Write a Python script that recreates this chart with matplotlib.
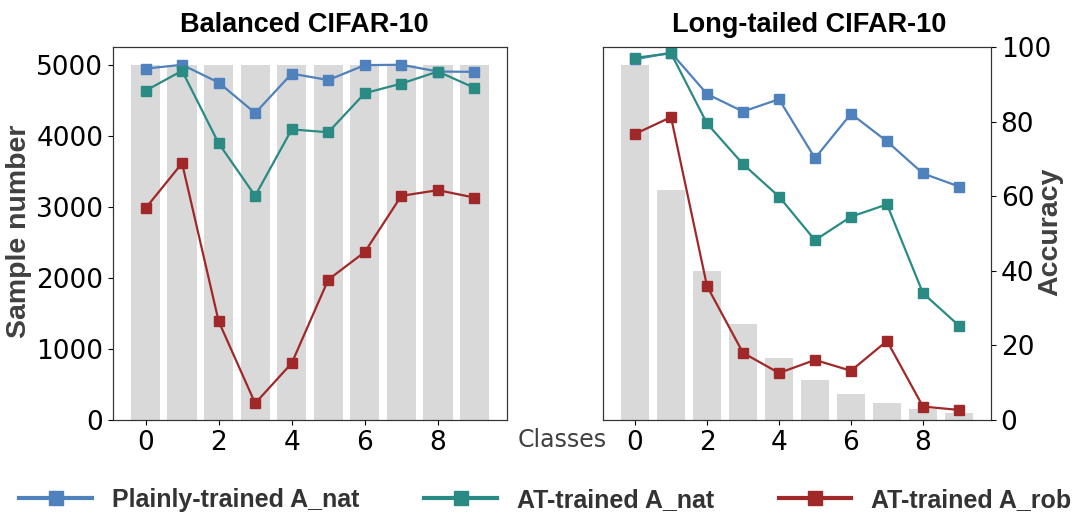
import numpy as np
import matplotlib.pyplot as plt

classes = np.arange(10)

# per-class training set sizes
balanced_counts = [5000] * 10
longtail_counts = [5000, 3237, 2096, 1357, 878, 568, 368, 238, 154, 100]

# per-class accuracy (%) on balanced CIFAR-10
bal_plain_nat = [98.9, 100.0, 95.0, 86.4, 97.5, 95.7, 99.9, 100.0, 98.1, 98.0]
bal_at_nat = [92.7, 98.3, 77.9, 63.1, 81.8, 81.0, 92.0, 94.7, 98.1, 93.5]
bal_at_rob = [59.6, 72.3, 27.8, 4.7, 16.0, 39.5, 47.3, 63.1, 64.7, 62.6]

# per-class accuracy (%) on long-tailed CIFAR-10
lt_plain_nat = [96.7, 98.5, 87.4, 82.7, 86.0, 70.2, 82.1, 74.7, 66.1, 62.6]
lt_at_nat = [97.1, 98.3, 79.5, 68.6, 59.9, 48.2, 54.5, 57.8, 34.0, 25.3]
lt_at_rob = [76.7, 81.2, 35.9, 18.0, 12.6, 16.1, 13.2, 21.2, 3.6, 2.7]

labels = ['Plainly-trained A_nat', 'AT-trained A_nat', 'AT-trained A_rob']
colors = ['#4f81bd', '#2a8a84', '#a02828']
bar_color = '#d9d9d9'

tick_fs = 19
title_font = dict(family='Liberation Sans', weight='bold', size=19.5)
label_font = dict(family='Liberation Sans', weight='bold', size=20.5, color='#404040')

fig = plt.figure(figsize=(10.91, 5.13), dpi=100)
ax1 = fig.add_axes([113/1091, 1 - 420/513, 394/1091, 373/513])
ax2 = fig.add_axes([603/1091, 1 - 420/513, 388/1091, 373/513])


def draw(ax, counts, accs, title, tx):
    ax.bar(classes, counts, width=0.8, color=bar_color, zorder=1)
    ax.set_ylim(0, 5250)
    ax.set_xticks([0, 2, 4, 6, 8])
    ax.tick_params(labelsize=tick_fs)
    ax.set_title(title, pad=11, x=tx, **title_font)
    tw = ax.twinx()
    for a, c, lab in zip(accs, colors, labels):
        tw.plot(classes, a, color=c, marker='s', markersize=6.5, lw=1.6, label=lab)
    return tw


tw1 = draw(ax1, balanced_counts, [bal_plain_nat, bal_at_nat, bal_at_rob],
           'Balanced CIFAR-10', 0.485)
tw1.set_ylim(0, 105)
tw1.set_yticks([])
ax1.set_yticks([0, 1000, 2000, 3000, 4000, 5000])
ax1.set_ylabel('Sample number', **label_font)
ax1.yaxis.set_label_coords(-0.206, 0.505)

tw2 = draw(ax2, longtail_counts, [lt_plain_nat, lt_at_nat, lt_at_rob],
           'Long-tailed CIFAR-10', 0.532)
ax2.set_yticks([])
tw2.set_ylim(0, 100)
tw2.set_yticks([0, 20, 40, 60, 80, 100])
tw2.tick_params(labelsize=tick_fs)
tw2.set_ylabel('Accuracy', **label_font)
tw2.yaxis.set_label_coords(1.119, 0.505)

for ax in (ax1, ax2, tw1, tw2):
    for s in ax.spines.values():
        s.set_color('#333333')

fig.text(562/1091, 1 - 440/513, 'Classes', ha='center', va='center',
         fontsize=17, color='#404040')

handles, labs = tw1.get_legend_handles_labels()
leg = fig.legend(handles, labs, ncol=3, loc='center', bbox_to_anchor=(0.5, 1 - 500/513),
                 frameon=False, handlelength=2.9, handletextpad=0.8, columnspacing=2.6,
                 markerscale=1.6,
                 prop=dict(family='Liberation Sans', weight='bold', size=18))
for t in leg.get_texts():
    t.set_color('#333333')
for h in leg.legend_handles:
    h.set_linewidth(3)

fig.savefig('out.png', dpi=100)
